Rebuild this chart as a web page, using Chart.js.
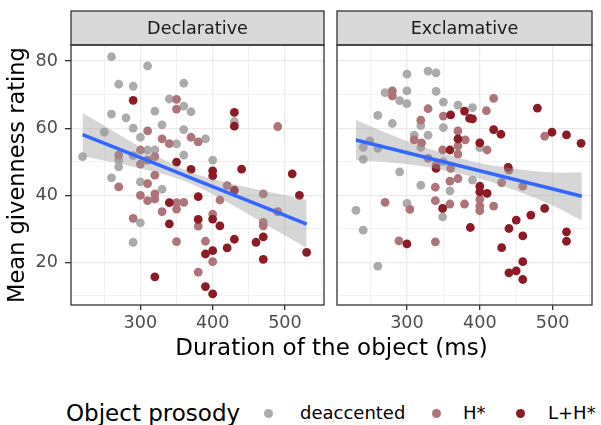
<!DOCTYPE html>
<html>
<head>
<meta charset="utf-8">
<script src="https://cdn.jsdelivr.net/npm/chart.js@4/dist/chart.umd.min.js"></script>
<style>
  body { margin: 0; background: #fff; font-family: "DejaVu Sans", sans-serif; }
  #wrap { position: relative; width: 601px; height: 425px; overflow: hidden; }
  canvas { position: absolute; top: 0; }
  #left { left: 0; }
  #right { left: 330px; }
  .xtitle { position: absolute; left: 71px; width: 521px; top: 334px; line-height: 26px;
            text-align: center; font-size: 23px; color: #000; }
  .lg { position: absolute; white-space: nowrap; }
  .lg.title { font-size: 23px; line-height: 26px; top: 400px; color: #000; }
  .lg.lab { font-size: 18px; line-height: 22px; top: 402px; color: #000; }
  .lg.dot { width: 9px; height: 9px; border-radius: 50%; top: 408.5px; }
</style>
</head>
<body>
<div id="wrap">
  <canvas id="left" width="330" height="340"></canvas>
  <canvas id="right" width="271" height="340"></canvas>
  <div class="xtitle">Duration of the object (ms)</div>
  <div id="legend"></div>
</div>
<script>
// facets and legend groups
const facets = ['Declarative', 'Exclamative'];
const prosody = ['deaccented', 'H*', 'L+H*'];
const prosodyColors = ['#ABABAB', '#AD7579', '#8C1B26'];

// Declarative: duration (ms) / mean givenness rating
const decDeaccX = [260, 310, 270, 290, 360, 340, 360, 370, 320, 260, 280, 330, 290, 360, 250, 300, 350, 360, 220, 310, 320, 270, 270, 290, 260, 300, 390, 430, 400, 330, 300, 290];
const decDeaccY = [81.3, 78.6, 73.1, 72.5, 73.4, 68.7, 66.6, 64.9, 65.1, 64.2, 63.1, 61.0, 60.0, 59.6, 58.8, 57.3, 55.3, 52.0, 51.5, 53.5, 53.5, 50.5, 48.5, 51.8, 45.2, 44.0, 56.8, 62.0, 50.5, 41.8, 31.8, 26.0];
const decHX = [350, 350, 310, 330, 340, 370, 380, 300, 270, 320, 300, 310, 320, 270, 310, 300, 310, 320, 320, 350, 360, 350, 330, 290, 350, 380, 490, 420, 410, 470, 490, 380, 400, 470, 470, 390, 400];
const decHY = [68.6, 65.7, 59.2, 56.8, 55.4, 57.3, 55.9, 53.5, 52.0, 51.5, 49.3, 50.5, 46.0, 42.5, 43.5, 40.0, 38.4, 40.4, 38.9, 37.8, 37.9, 35.9, 35.1, 33.1, 26.2, 17.1, 60.5, 42.9, 38.6, 40.4, 35.1, 30.8, 34.4, 31.9, 30.9, 26.3, 20.2];
const decLX = [290, 350, 370, 430, 430, 400, 400, 440, 510, 340, 340, 320, 380, 380, 430, 520, 400, 410, 470, 460, 430, 420, 390, 400, 470, 530, 390, 400];
const decLY = [68.3, 49.9, 47.7, 64.7, 60.6, 47.3, 45.8, 47.8, 46.4, 37.8, 31.5, 15.7, 39.6, 32.8, 41.5, 40.0, 32.9, 30.9, 27.6, 26.0, 26.9, 24.3, 22.5, 23.5, 20.9, 23.0, 12.8, 10.6];

// Exclamative
const excDeaccX = [300, 329, 340, 270, 300, 290, 300, 340, 350, 370, 260, 280, 319, 350, 329, 310, 249, 240, 319, 260, 240, 290, 350, 390, 400, 319, 359, 230, 300, 349, 240, 260, 390];
const excDeaccY = [76.1, 77.0, 76.5, 70.6, 71.1, 68.2, 67.3, 71.0, 67.8, 66.9, 63.8, 61.4, 60.8, 60.2, 57.9, 57.9, 56.2, 54.3, 54.3, 54.0, 50.7, 47.0, 50.0, 66.1, 54.2, 43.0, 41.3, 35.5, 37.6, 33.6, 29.6, 18.9, 44.5];
const excHX = [280, 280, 329, 350, 319, 370, 380, 310, 320, 349, 370, 370, 329, 340, 360, 419, 409, 489, 410, 339, 359, 370, 270, 304, 339, 359, 379, 289, 339, 430, 459, 440, 400, 400, 400, 419];
const excHY = [71.1, 69.6, 65.8, 63.6, 62.4, 59.2, 56.5, 56.5, 55.6, 53.5, 54.7, 52.3, 51.0, 49.0, 48.0, 68.9, 65.2, 57.6, 53.5, 42.4, 44.2, 45.0, 37.9, 35.8, 38.4, 37.4, 37.4, 26.4, 26.1, 43.8, 42.7, 47.5, 38.8, 36.8, 35.4, 36.8];
const excLX = [360, 379, 386, 370, 359, 340, 390, 479, 419, 429, 499, 519, 539, 400, 439, 349, 300, 387, 400, 400, 410, 489, 470, 450, 440, 459, 519, 519, 430, 459, 440, 450, 459];
const excLY = [64.0, 65.1, 62.9, 56.8, 53.5, 48.0, 62.8, 66.0, 59.6, 58.2, 58.8, 58.0, 55.5, 55.6, 48.3, 36.1, 25.5, 30.4, 42.7, 41.0, 40.6, 36.1, 34.1, 32.6, 30.1, 27.9, 29.1, 26.3, 24.4, 20.2, 16.9, 17.5, 14.9];

// linear fits with confidence band
const decFitX = [220, 260, 300, 340, 380, 420, 460, 500, 530];
const decFitY = [58.1, 54.66, 51.21, 47.77, 44.32, 40.88, 37.44, 33.99, 31.4];
const decBandLo = [51.7, 49.9, 48.0, 45.8, 42.5, 38.0, 33.0, 28.0, 24.2];
const decBandHi = [64.5, 59.5, 54.4, 49.8, 46.1, 43.8, 41.8, 40.0, 38.6];
const excFitX = [230, 270, 310, 350, 390, 430, 470, 510, 540];
const excFitY = [56.5, 54.34, 52.17, 50.0, 47.84, 45.68, 43.5, 41.35, 39.7];
const excBandLo = [50.5, 49.9, 49.0, 47.5, 45.5, 42.9, 39.7, 35.95, 32.5];
const excBandHi = [62.5, 58.7, 55.4, 52.5, 50.1, 48.5, 47.3, 46.75, 46.9];

// axis ranges and ticks (major ones get labels)
const xRange = [204, 554];
const yRange = [7.3, 84.8];
const xTicks = [250, 300, 350, 400, 450, 500, 550];
const xTickLabels = [300, 400, 500];
const yTicks = [10, 20, 30, 40, 50, 60, 70, 80];
const yTickLabels = [20, 40, 60, 80];

Chart.defaults.font.family = '"DejaVu Sans", sans-serif';

const pts = (xs, ys) => xs.map((x, i) => ({ x: x, y: ys[i] }));

// strip on top + panel border
const panelFrame = {
    id: 'panelFrame',
    afterDraw(chart, args, opts) {
        const { ctx, chartArea: a } = chart;
        const stripTop = 11;
        ctx.save();
        ctx.fillStyle = '#D9D9D9';
        ctx.fillRect(a.left, stripTop, a.right - a.left, a.top - stripTop);
        ctx.strokeStyle = '#333333';
        ctx.lineWidth = 1.3;
        ctx.strokeRect(a.left, stripTop, a.right - a.left, a.top - stripTop);
        ctx.strokeRect(a.left, a.top, a.right - a.left, a.bottom - a.top);
        ctx.fillStyle = '#1A1A1A';
        ctx.font = '17.6px "DejaVu Sans"';
        ctx.textAlign = 'center';
        ctx.textBaseline = 'middle';
        ctx.fillText(opts.label, (a.left + a.right) / 2, (stripTop + a.top) / 2 + 1);
        ctx.restore();
    }
};

const gridColor = '#EBEBEB';
const tickFont = { size: 17.6 };
const isMajor = (list) => (c) => c.tick && list.includes(c.tick.value);

function makePanel(id, label, groups, fitX, fitY, lo, hi, showY, pad) {
    const datasets = [
        { type: 'line', data: pts(fitX, lo), borderWidth: 0, pointRadius: 0, fill: false,
          cubicInterpolationMode: 'monotone', order: 2 },
        { type: 'line', data: pts(fitX, hi), borderWidth: 0, pointRadius: 0, fill: '-1',
          backgroundColor: 'rgba(153,153,153,0.4)', cubicInterpolationMode: 'monotone', order: 2 },
        { type: 'line', data: pts(fitX, fitY), borderColor: '#3366FF', borderWidth: 3.5,
          pointRadius: 0, fill: false, order: 1 }
    ];
    groups.forEach((g, k) => {
        datasets.push({
            type: 'scatter', label: prosody[k], data: pts(g[0], g[1]),
            backgroundColor: prosodyColors[k], borderWidth: 0, pointRadius: 4.4,
            pointHoverRadius: 4.4, order: 5 - k
        });
    });

    const xMajor = isMajor(xTickLabels);
    const yMajor = isMajor(yTickLabels);

    return new Chart(document.getElementById(id), {
        type: 'scatter',
        plugins: [panelFrame],
        data: { datasets },
        options: {
            responsive: false,
            animation: false,
            layout: { padding: pad },
            plugins: {
                legend: { display: false },
                tooltip: { enabled: false },
                panelFrame: { label }
            },
            scales: {
                x: {
                    type: 'linear', min: xRange[0], max: xRange[1],
                    afterBuildTicks: (s) => { s.ticks = xTicks.map((v) => ({ value: v })); },
                    afterFit: (s) => { s.height = 35; },
                    border: { display: false },
                    grid: {
                        color: gridColor,
                        lineWidth: (c) => (xMajor(c) ? 1.3 : 0.65),
                        tickLength: 5,
                        tickColor: (c) => (xMajor(c) ? '#333333' : 'rgba(0,0,0,0)'),
                        tickWidth: 1.3
                    },
                    ticks: {
                        autoSkip: false, maxRotation: 0,
                        padding: 3, color: '#4D4D4D', font: tickFont,
                        callback: (v) => (xTickLabels.includes(v) ? String(v) : '')
                    }
                },
                y: {
                    type: 'linear', min: yRange[0], max: yRange[1],
                    afterBuildTicks: (s) => { s.ticks = yTicks.map((v) => ({ value: v })); },
                    afterFit: (s) => { s.width = showY ? 71 : 0; },
                    border: { display: false },
                    grid: {
                        color: gridColor,
                        lineWidth: (c) => (yMajor(c) ? 1.3 : 0.65),
                        drawTicks: showY,
                        tickLength: 6,
                        tickColor: (c) => (yMajor(c) ? '#333333' : 'rgba(0,0,0,0)'),
                        tickWidth: 1.3
                    },
                    ticks: {
                        display: showY, autoSkip: false,
                        padding: 7, color: '#4D4D4D', font: tickFont,
                        callback: (v) => (yTickLabels.includes(v) ? String(v) : '')
                    },
                    title: {
                        display: showY, text: 'Mean givenness rating', color: '#000',
                        font: { size: 22.5 }, padding: { top: 5, bottom: 0 }
                    }
                }
            }
        }
    });
}

makePanel('left', facets[0],
    [[decDeaccX, decDeaccY], [decHX, decHY], [decLX, decLY]],
    decFitX, decFitY, decBandLo, decBandHi, true,
    { top: 45, right: 6, left: 0, bottom: 0 });

makePanel('right', facets[1],
    [[excDeaccX, excDeaccY], [excHX, excHY], [excLX, excLY]],
    excFitX, excFitY, excBandLo, excBandHi, false,
    { top: 45, right: 9, left: 7, bottom: 0 });

// legend (bottom)
const legend = document.getElementById('legend');
const legendPos = [[263.5, 300], [431.5, 463], [516, 548]];
legend.innerHTML = '<span class="lg title" style="left:66px">Object prosody</span>' +
    prosody.map((p, k) =>
        `<span class="lg dot" style="left:${legendPos[k][0]}px;background:${prosodyColors[k]}"></span>` +
        `<span class="lg lab" style="left:${legendPos[k][1]}px">${p}</span>`).join('');
</script>
</body>
</html>
